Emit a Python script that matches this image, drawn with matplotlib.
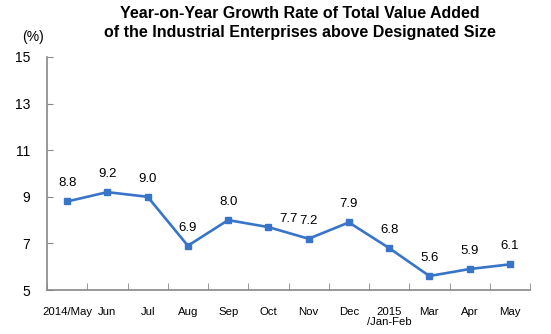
import matplotlib
matplotlib.use("Agg")
import matplotlib.pyplot as plt
import numpy as np

plt.rcParams['font.family'] = ['Liberation Sans', 'DejaVu Sans']

categories = ["2014/May", "Jun", "Jul", "Aug", "Sep", "Oct", "Nov", "Dec",
              "2015\n/Jan-Feb", "Mar", "Apr", "May"]
values = [8.8, 9.2, 9.0, 6.9, 8.0, 7.7, 7.2, 7.9, 6.8, 5.6, 5.9, 6.1]
yticks = [5, 7, 9, 11, 13, 15]

fig = plt.figure(figsize=(5.51, 3.34), dpi=100)
ax = fig.add_axes([47/551, 1-290/334, (530-47)/551, (290-57)/334])

x = np.arange(len(values))
line_color = "#3874c8"
ax.plot(x, values, color=line_color, linewidth=1.9, marker='s', markersize=4.8,
        markerfacecolor=line_color, markeredgecolor=line_color)

px = 72 / 100  # points per pixel
for i, (xi, v) in enumerate(zip(x, values)):
    if categories[i] == "Oct":
        off = (20 * px, 8 * px)
    else:
        off = (0, 18 * px)
    ax.annotate(f"{v:.1f}", (xi, v), xytext=off, textcoords='offset points',
                ha='center', va='center', fontsize=9.5, color='black')

ax.set_xlim(-0.5, len(values) - 0.5)
ax.set_ylim(5, 15)
ax.set_yticks(yticks)
ax.set_yticklabels([str(t) for t in yticks], fontsize=10)

ax.set_xticks(x)
ax.set_xticklabels(categories, fontsize=8.2, va='top', linespacing=1.05)
ax.tick_params(axis='x', which='major', length=0, pad=12)
ax.set_xticks(np.arange(-0.5, len(values), 1), minor=True)
ax.tick_params(axis='x', which='minor', direction='in', length=5, color='#888888')
ax.tick_params(axis='y', direction='in', length=4, color='#888888', pad=12)

for s in ['top', 'right']:
    ax.spines[s].set_visible(False)
for s in ['left', 'bottom']:
    ax.spines[s].set_color('#888888')
    ax.spines[s].set_linewidth(1.2)

fig.text(33/551, 1-37/334, "(%)", fontsize=10, ha='center', va='center')
fig.text(300/551, 1-14/334, "Year-on-Year Growth Rate of Total Value Added",
         fontsize=11.5, fontweight='bold', ha='center', va='center')
fig.text(300/551, 1-33/334, "of the Industrial Enterprises above Designated Size",
         fontsize=11.5, fontweight='bold', ha='center', va='center')

fig.savefig("out.png", dpi=100)
